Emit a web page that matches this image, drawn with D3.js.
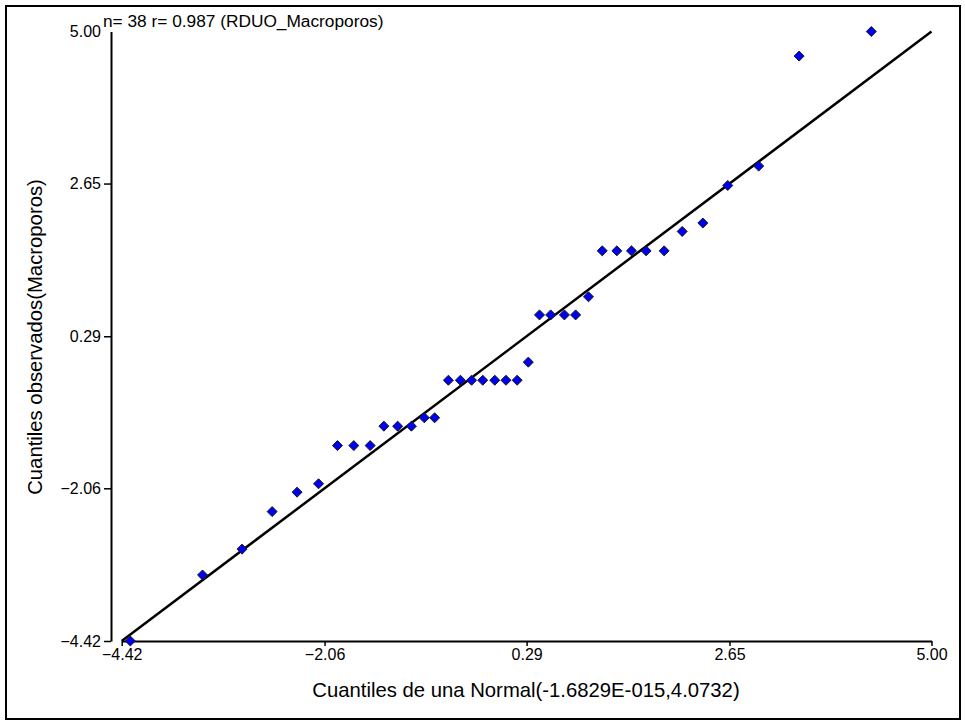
<!DOCTYPE html>
<html>
<head>
<meta charset="utf-8">
<script src="https://cdn.jsdelivr.net/npm/d3@7"></script>
<style>
  html, body { margin: 0; padding: 0; background: #fff; }
  svg { display: block; font-family: "Liberation Sans", Arial, sans-serif; }
</style>
</head>
<body>
<script>
// Normal Q-Q plot: theoretical normal quantiles vs observed quantiles (Macroporos)
const theoreticalQuantiles = [
  -4.32, -3.48, -3.02, -2.67, -2.38, -2.13, -1.91, -1.72, -1.53, -1.37,
  -1.21, -1.05, -0.90, -0.78, -0.62, -0.48, -0.35, -0.22, -0.08, 0.05,
  0.18, 0.31, 0.44, 0.57, 0.73, 0.86, 1.01, 1.17, 1.34, 1.51,
  1.68, 1.89, 2.10, 2.34, 2.63, 2.99, 3.46, 4.30
];
const observedQuantiles = [
  -4.42, -3.40, -3.00, -2.42, -2.12, -1.99, -1.40, -1.40, -1.40, -1.10,
  -1.10, -1.10, -0.97, -0.97, -0.39, -0.39, -0.39, -0.39, -0.39, -0.39,
  -0.39, -0.11, 0.62, 0.62, 0.62, 0.62, 0.90, 1.61, 1.61, 1.61,
  1.61, 1.61, 1.91, 2.04, 2.62, 2.92, 4.62, 5.00
];
const tickValues = [-4.42, -2.06, 0.29, 2.65, 5.00];
const referenceLine = [-4.42, 5.00];   // y = x
const headerText = "n= 38 r= 0.987 (RDUO_Macroporos)";
const xTitle = "Cuantiles de una Normal(-1.6829E-015,4.0732)";
const yTitle = "Cuantiles observados(Macroporos)";

const W = 965, H = 725;
const svg = d3.select("body").append("svg").attr("width", W).attr("height", H);

// outer frame
svg.append("rect")
  .attr("x", 6).attr("y", 6).attr("width", 954).attr("height", 713)
  .attr("fill", "none").attr("stroke", "#000").attr("stroke-width", 2);

const x = d3.scaleLinear().domain([-4.42, 5.00]).range([121.7, 931.5]);
const y = d3.scaleLinear().domain([-4.42, 5.00]).range([641, 31.5]);
const fmt = d3.format(".2f");

// x axis
const gx = svg.append("g").attr("transform", "translate(0,641)")
  .call(d3.axisBottom(x).tickValues(tickValues).tickFormat(fmt)
    .tickSizeOuter(0).tickSizeInner(5).tickPadding(3));
// y axis
const gy = svg.append("g").attr("transform", "translate(111,0)")
  .call(d3.axisLeft(y).tickValues(tickValues).tickFormat(fmt)
    .tickSizeOuter(0).tickSizeInner(7).tickPadding(3));

[gx, gy].forEach(g => {
  g.select(".domain").attr("stroke", "#000").attr("stroke-width", 2);
  g.selectAll(".tick line").attr("stroke", "#000").attr("stroke-width", 1.5);
  g.selectAll(".tick text").attr("fill", "#000")
    .style("font-family", "'Liberation Sans', Arial, sans-serif").style("font-size", "16px");
});
gy.selectAll(".tick").filter(d => d === 5.00).select("line").remove();

// reference line y = x
svg.append("line")
  .attr("x1", x(referenceLine[0])).attr("y1", y(referenceLine[0]))
  .attr("x2", x(referenceLine[1])).attr("y2", y(referenceLine[1]))
  .attr("stroke", "#000").attr("stroke-width", 2.5);

// points
const pts = theoreticalQuantiles.map((v, i) => [v, observedQuantiles[i]]);
svg.append("g").selectAll("path").data(pts).join("path")
  .attr("transform", d => `translate(${x(d[0])},${y(d[1])})`)
  .attr("d", d3.symbol().type(d3.symbolDiamond2).size(64))
  .attr("fill", "#0000f0").attr("stroke", "#1a1a1a").attr("stroke-width", 1);

// header
svg.append("text").attr("x", 103).attr("y", 27)
  .style("font-size", "17.3px").attr("fill", "#000").text(headerText);

// axis titles
svg.append("text").attr("x", 526).attr("y", 697).attr("text-anchor", "middle")
  .style("font-size", "20.3px").attr("fill", "#000").text(xTitle);
svg.append("text").attr("transform", "translate(42,337) rotate(-90)")
  .attr("text-anchor", "middle")
  .style("font-size", "20.3px").attr("fill", "#000").text(yTitle);
</script>
</body>
</html>
